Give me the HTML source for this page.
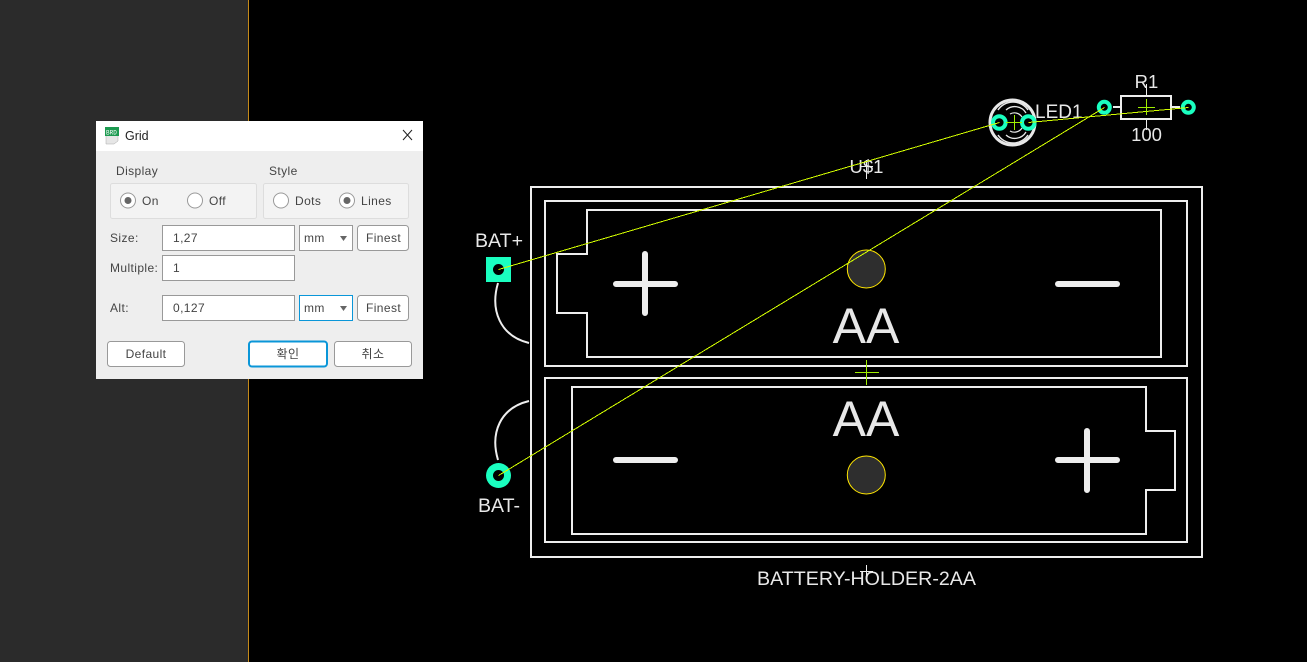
<!DOCTYPE html>
<html><head><meta charset="utf-8"><style>
html,body{margin:0;padding:0;background:#000;width:1307px;height:662px;overflow:hidden}
svg{display:block}
.v{font-family:"Liberation Sans",sans-serif;fill:#e8e8e8}
.u{font-family:"Liberation Sans","Noto Sans CJK KR",sans-serif;font-size:12px;fill:#444;letter-spacing:.4px}
.l{fill:none;stroke:#eee;stroke-width:2}
.b{fill:#fff;stroke:#999;stroke-width:1}
.g{fill:#f3f3f3;stroke:#ddd;stroke-width:1}
.r{fill:#fff;stroke:#999;stroke-width:1}
.w{fill:none;stroke:#d4ff00;stroke-width:1;shape-rendering:crispEdges}
.c{stroke:#a0f000;stroke-width:1;fill:none}
</style></head><body>
<svg width="1307" height="662" viewBox="0 0 1307 662" xmlns="http://www.w3.org/2000/svg">
<rect width="1307" height="662" fill="#000"/>
<rect width="248" height="662" fill="#2b2b2b"/>
<rect x="248" width="1" height="662" fill="#c58a1a"/>

<!-- battery holder -->
<rect class="l" x="531" y="187" width="671" height="370"/>
<rect class="l" x="545" y="201" width="642" height="165"/>
<rect class="l" x="545" y="378" width="642" height="164"/>
<path class="l" d="M587 210H1161V357H587V313H557V254H587Z"/>
<path class="l" d="M572 387H1146V431H1175V490H1146V534H572Z"/>
<g stroke="#eee" stroke-width="6" stroke-linecap="round" fill="none">
<path d="M616 284H675M645 254V313"/>
<path d="M1058 284H1117"/>
<path d="M616 460H675"/>
<path d="M1058 460H1117M1087 431V490"/>
</g>
<circle cx="866.300" cy="269" r="19" fill="#2e2e2e" stroke="#ffe600" stroke-width="1"/>
<circle cx="866.300" cy="475" r="19" fill="#2e2e2e" stroke="#ffe600" stroke-width="1"/>
<text class="v" x="866" y="343" font-size="50" text-anchor="middle">AA</text>
<text class="v" x="866" y="436" font-size="50" text-anchor="middle">AA</text>
<path class="c" d="M855 372.500H879M866.500 360V385"/>

<!-- wires to pads -->
<path d="M498 283C490 310 500 336 529 343" fill="none" stroke="#eee" stroke-width="2"/>
<path d="M498 460C490 433 500 408 529 401" fill="none" stroke="#eee" stroke-width="2"/>

<!-- pads -->
<rect x="486" y="257" width="25" height="25" fill="#1affc0"/>
<circle cx="498.500" cy="269.500" r="5.500" fill="#000"/>
<circle cx="498.500" cy="475.500" r="12.500" fill="#1affc0"/>
<circle cx="498.500" cy="475.500" r="5.500" fill="#000"/>
<text class="v" x="499" y="247" font-size="19.500" text-anchor="middle" textLength="48" lengthAdjust="spacingAndGlyphs">BAT+</text>
<text class="v" x="499" y="512" font-size="19.500" text-anchor="middle" textLength="42" lengthAdjust="spacingAndGlyphs">BAT-</text>

<!-- LED -->
<g fill="none" stroke="#e8e8e8">
<circle cx="1012.500" cy="122.500" r="22.500" stroke-width="3"/>
<path stroke-width="1.500" d="M998 110A18 18 0 0 1 1028 110M998 135A18 18 0 0 0 1028 135"/>
<path stroke-width="1.300" d="M1006 110A13 13 0 0 1 1026 113M1006 135A13 13 0 0 0 1026 132"/>
<path stroke-width="1.200" d="M1010 114A9 9 0 0 1 1022 117M1010 131A9 9 0 0 0 1022 128"/>
</g>
<text class="v" x="1035" y="118" font-size="19">LED1</text>
<circle cx="999.300" cy="122.500" r="6.300" fill="#000" stroke="#1affc0" stroke-width="4"/>
<circle cx="1028.300" cy="122.500" r="6.300" fill="#000" stroke="#1affc0" stroke-width="4"/>

<!-- Resistor -->
<rect class="l" x="1121" y="96" width="50" height="23"/>
<path class="l" d="M1113 107H1121M1171 107H1180"/>
<path d="M1146.500 84V95M1146.500 120V130" stroke="#eee" stroke-width="1"/>
<circle cx="1104.300" cy="107.300" r="5.500" fill="#000" stroke="#1affc0" stroke-width="4"/>
<circle cx="1188.300" cy="107.300" r="5.500" fill="#000" stroke="#1affc0" stroke-width="4"/>
<text class="v" x="1146.500" y="88" font-size="18.500" text-anchor="middle">R1</text>
<text class="v" x="1146.500" y="141" font-size="18.500" text-anchor="middle">100</text>

<!-- U$1 + holder label -->
<text class="v" x="866.500" y="173" font-size="18.500" text-anchor="middle">U$1</text>
<path d="M866.500 160V179M860 166.500H873" stroke="#eee" stroke-width="1"/>
<text class="v" x="866.500" y="585" font-size="19" text-anchor="middle" textLength="219" lengthAdjust="spacingAndGlyphs">BATTERY-HOLDER-2AA</text>
<path d="M866.500 565V577M860 571.500H873" stroke="#eee" stroke-width="1"/>

<!-- airwires -->
<path class="w" d="M498.500 269.500L999.500 122.500"/>
<path class="w" d="M1028.500 122.500L1188.500 107.500"/>
<path class="w" d="M498.500 475.500L1104.500 107.500"/>
<path class="c" d="M1006 122.500H1022M1014.500 115V130"/>
<path class="c" d="M1138 107.500H1155M1146.500 99V115"/>

<!-- dialog -->
<rect x="96" y="121" width="327" height="258" fill="#eee"/>
<rect x="96" y="121" width="327" height="30" fill="#fff"/>
<path d="M106 135H118V141L114 144H106Z" fill="#e6e6e6" stroke="#aaa" stroke-width=".5"/>
<rect x="105" y="127" width="14" height="9" fill="#1c9a50"/>
<text x="106" y="134.500" font-family="Liberation Mono,monospace" font-size="6" fill="#fff">BRD</text>
<text x="125" y="140" font-family="Liberation Sans,sans-serif" font-size="12.500" fill="#222">Grid</text>
<path d="M403 130L412 140M412 130L403 140" stroke="#222" stroke-width="1" fill="none"/>

<text class="u" x="116" y="175">Display</text>
<text class="u" x="269" y="175">Style</text>
<rect class="g" x="110.500" y="183.500" width="146" height="35" rx="2"/>
<rect class="g" x="263.500" y="183.500" width="145" height="35" rx="2"/>
<circle class="r" cx="128" cy="200.500" r="7.500"/><circle cx="128" cy="200.500" r="3.500" fill="#666"/>
<text class="u" x="142" y="205">On</text>
<circle class="r" cx="195" cy="200.500" r="7.500"/>
<text class="u" x="209" y="205">Off</text>
<circle class="r" cx="281" cy="200.500" r="7.500"/>
<text class="u" x="295" y="205">Dots</text>
<circle class="r" cx="347" cy="200.500" r="7.500"/><circle cx="347" cy="200.500" r="3.500" fill="#666"/>
<text class="u" x="361" y="205">Lines</text>

<text class="u" x="110" y="242">Size:</text>
<rect class="b" x="162.500" y="225.500" width="132" height="25"/>
<text class="u" x="173" y="242">1,27</text>
<rect class="b" x="299.500" y="225.500" width="53" height="25"/>
<text class="u" x="304" y="242">mm</text>
<path d="M340 236H347L343.500 241Z" fill="#666"/>
<rect class="b" x="357.500" y="225.500" width="51" height="25" rx="3"/>
<text class="u" x="366" y="242">Finest</text>

<text class="u" x="110" y="272">Multiple:</text>
<rect class="b" x="162.500" y="255.500" width="132" height="25"/>
<text class="u" x="173" y="272">1</text>

<text class="u" x="110" y="312">Alt:</text>
<rect class="b" x="162.500" y="295.500" width="132" height="25"/>
<text class="u" x="173" y="312">0,127</text>
<rect x="299.500" y="295.500" width="53" height="25" fill="#fff" stroke="#0a96d8"/>
<text class="u" x="304" y="312">mm</text>
<path d="M340 306H347L343.500 311Z" fill="#666"/>
<rect class="b" x="357.500" y="295.500" width="51" height="25" rx="3"/>
<text class="u" x="366" y="312">Finest</text>

<rect class="b" x="107.500" y="341.500" width="77" height="25" rx="3"/>
<text class="u" x="146" y="358" text-anchor="middle">Default</text>
<rect x="249" y="341.500" width="78" height="25" rx="3" fill="#fff" stroke="#0a96d8" stroke-width="2"/>
<text class="u" x="288" y="358" text-anchor="middle">확인</text>
<rect class="b" x="334.500" y="341.500" width="77" height="25" rx="3"/>
<text class="u" x="373" y="358" text-anchor="middle">취소</text>
</svg>
</body></html>
